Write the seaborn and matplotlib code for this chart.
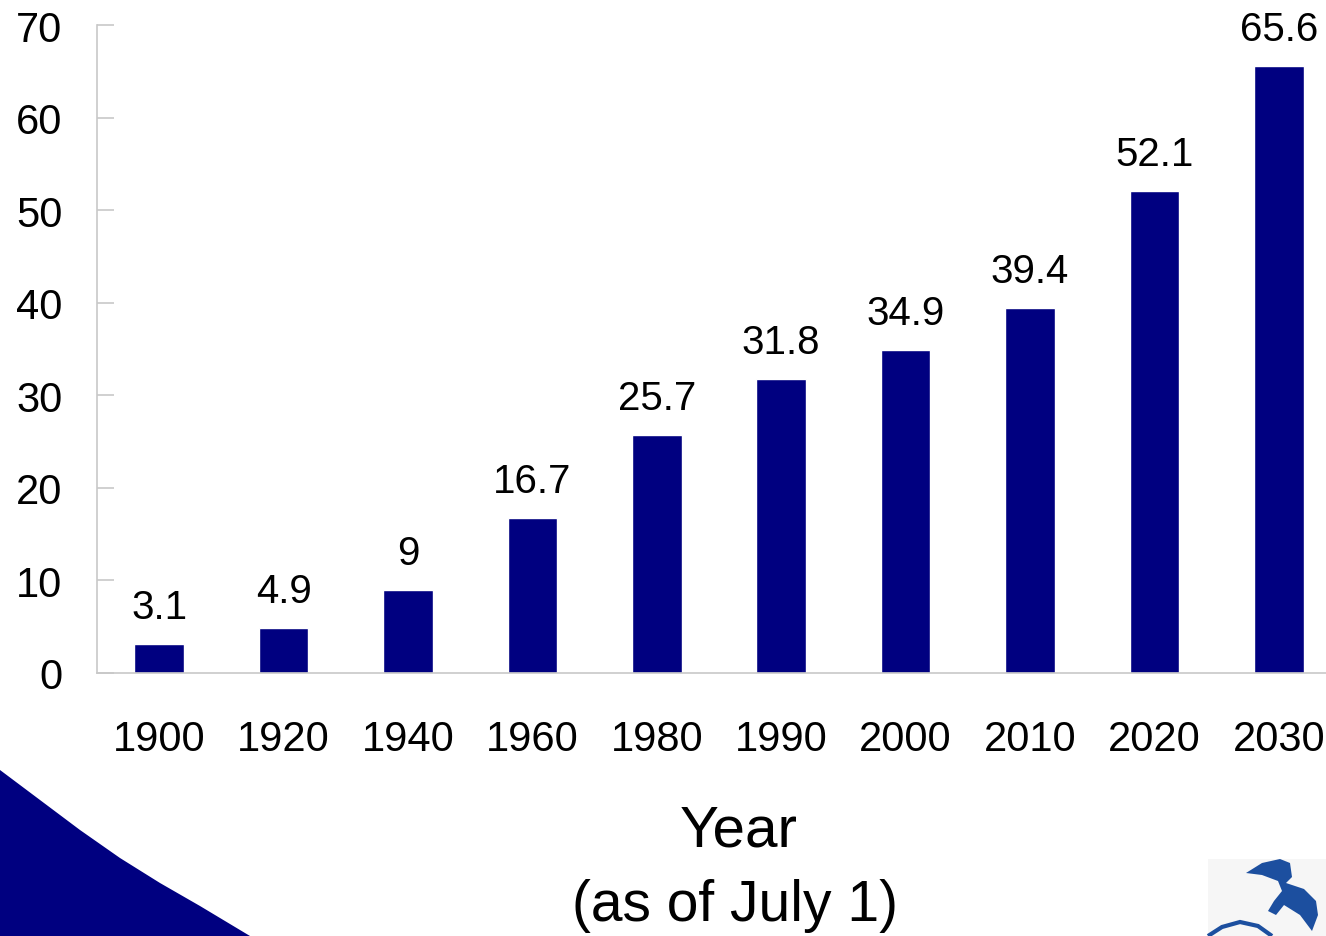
import matplotlib
matplotlib.use("Agg")
import matplotlib.pyplot as plt
from matplotlib.patches import Polygon
import pandas as pd
import seaborn as sns

years = ["1900", "1920", "1940", "1960", "1980", "1990", "2000", "2010", "2020", "2030"]
values = [3.1, 4.9, 9, 16.7, 25.7, 31.8, 34.9, 39.4, 52.1, 65.6]

NAVY = "#000080"
W, H = 1326, 937


def px(x, y):
    # figure pixel (from top-left) -> figure fraction
    return (x / W, 1 - y / H)


sns.set_style("white")
plt.rcParams["font.family"] = ["Liberation Sans", "DejaVu Sans"]
plt.rcParams["text.color"] = "black"
plt.rcParams["xtick.labelcolor"] = "black"
plt.rcParams["ytick.labelcolor"] = "black"

fig = plt.figure(figsize=(W / 100, H / 100), dpi=100)
ax = fig.add_axes([97 / W, (H - 674) / H, 1244 / W, 648 / H])

df = pd.DataFrame({"year": years, "value": values})
sns.barplot(data=df, x="year", y="value", color=NAVY, saturation=1,
            width=0.4, ax=ax)

ax.bar_label(ax.containers[0], labels=[f"{v:g}" for v in values],
             padding=13, fontsize=29, color="black")

ax.set_ylim(0, 70)
ax.set_xlim(-0.5, 9.5)
ax.set_yticks(range(0, 71, 10))
ax.set_xlabel("")
ax.set_ylabel("")
for side in ["top", "right"]:
    ax.spines[side].set_visible(False)
for side in ["left", "bottom"]:
    ax.spines[side].set_color("#c8c8c8")
    ax.spines[side].set_linewidth(1.2)
ax.tick_params(axis="y", left=True, direction="in", length=12, width=1.2,
               color="#c8c8c8", labelsize=30, pad=25)
ax.tick_params(axis="x", length=0, labelsize=30, pad=33)

fig.text(739 / W, 1 - 832 / H, "Year", fontsize=42, ha="center", va="center")
fig.text(735 / W, 1 - 906 / H, "(as of July 1)", fontsize=41,
         ha="center", va="center")

# slide decoration: navy swoosh bottom-left
swoosh = [(0, 771), (40, 801), (80, 831), (120, 859), (160, 884),
          (200, 907), (250, 937), (0, 937)]
fig.add_artist(Polygon([px(*p) for p in swoosh], closed=True,
                       transform=fig.transFigure, facecolor=NAVY,
                       edgecolor="none"))

# logo bottom-right
fig.add_artist(Polygon([px(*p) for p in [(1208, 860), (1326, 860), (1326, 937), (1208, 937)]],
                       closed=True, transform=fig.transFigure,
                       facecolor="#f6f6f6", edgecolor="none"))
bird = [(1246, 874), (1262, 864), (1280, 860), (1290, 864), (1292, 878),
        (1286, 884), (1304, 890), (1316, 902), (1318, 916), (1312, 932),
        (1300, 916), (1284, 906), (1276, 916), (1268, 912), (1274, 902),
        (1282, 892), (1278, 882), (1262, 876)]
fig.add_artist(Polygon([px(*p) for p in bird], closed=True,
                       transform=fig.transFigure, facecolor="#1c4f9f",
                       edgecolor="none"))
arc = [(1208, 937), (1222, 928), (1240, 923), (1258, 927), (1272, 937)]
fig.add_artist(Polygon([px(*p) for p in arc], closed=False,
                       transform=fig.transFigure, facecolor="none",
                       edgecolor="#1c4f9f", linewidth=3))

fig.savefig("out.png", dpi=100)
